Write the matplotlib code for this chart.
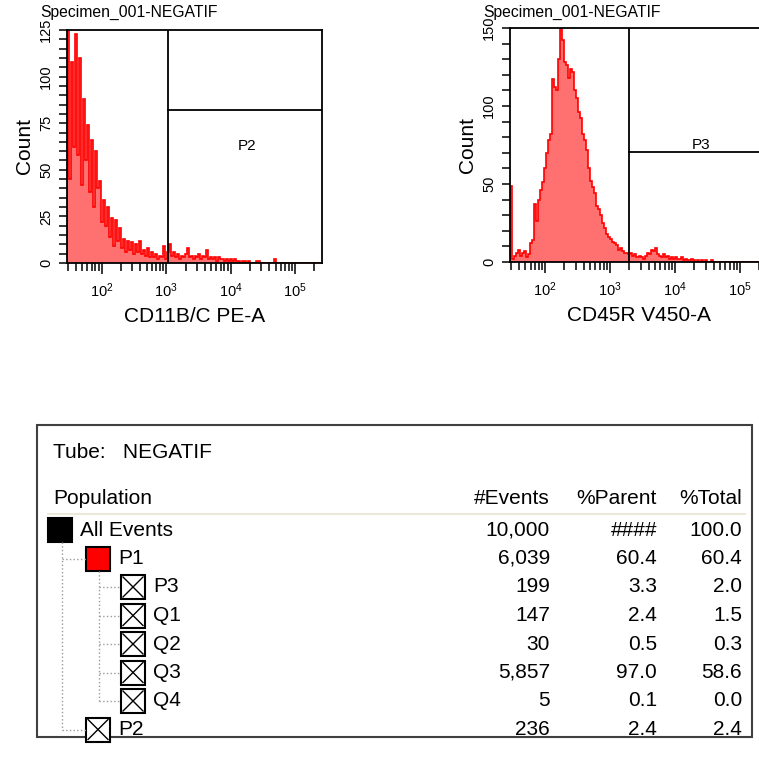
import numpy as np
import matplotlib.pyplot as plt
from matplotlib.patches import Rectangle
from matplotlib.ticker import LogLocator, MultipleLocator, NullFormatter

plt.rcParams['font.family'] = ['Liberation Sans', 'DejaVu Sans']

# histogram counts, 128 log-spaced channels from ~29 to 262144
cd11b_counts = [125, 45, 108, 62, 123, 58, 110, 42, 88, 55,
                74, 38, 66, 30, 60, 40, 44, 22, 34, 20,
                30, 14, 24, 9, 23, 12, 19, 8, 13, 6,
                12, 7, 11, 5, 10, 6, 12, 5, 7, 4,
                8, 3, 6, 3, 5, 2, 4, 3, 9, 2,
                6, 10, 4, 6, 3, 5, 2, 4, 3, 5,
                8, 3, 4, 2, 4, 3, 5, 2, 4, 3,
                7, 2, 3, 2, 3, 1, 3, 2, 2, 1,
                2, 1, 2, 1, 2, 1, 1, 0, 1, 1,
                0, 1, 0, 0, 0, 1, 1, 0, 0, 0,
                0, 0, 0, 0, 2, 0, 0, 0, 0, 0,
                0, 0, 0, 0, 0, 0, 0, 0, 0, 0,
                0, 0, 0, 0, 0, 0, 0, 0]
cd45r_counts = [49, 2, 4, 6, 8, 4, 6, 7, 3, 5,
                12, 14, 37, 26, 40, 46, 51, 60, 70, 78,
                82, 117, 112, 110, 130, 150, 142, 128, 126, 118,
                124, 122, 110, 105, 96, 92, 82, 78, 72, 60,
                52, 48, 44, 36, 34, 30, 25, 22, 18, 16,
                15, 13, 12, 11, 8, 9, 7, 6, 6, 5,
                6, 4, 5, 3, 4, 3, 2, 4, 6, 5,
                8, 7, 9, 5, 4, 3, 5, 3, 4, 2,
                3, 2, 3, 2, 2, 3, 1, 2, 1, 1,
                2, 1, 0, 1, 0, 1, 0, 1, 0, 0,
                1, 0, 0, 0, 0, 0, 0, 0, 0, 0,
                0, 0, 0, 0, 0, 0, 0, 0, 0, 0,
                0, 0, 0, 0, 0, 0, 0, 0]

XMIN, XMAX = 29, 262144
p2_gate = (1070, 82)
p3_gate = (1950, 70.5)

# statistics table
populations = ['All Events', 'P1', 'P3', 'Q1', 'Q2', 'Q3', 'Q4', 'P2']
levels = [0, 1, 2, 2, 2, 2, 2, 1]
icons = ['black', 'red', 'x', 'x', 'x', 'x', 'x', 'x']
events = [10000, 6039, 199, 147, 30, 5857, 5, 236]
pct_parent = [None, 60.4, 3.3, 2.4, 0.5, 97.0, 0.1, 2.4]
pct_total = [100.0, 60.4, 2.0, 1.5, 0.3, 58.6, 0.0, 2.4]

W, H = 759, 757
fig = plt.figure(figsize=(W / 100, H / 100), dpi=100)


def hist_panel(rect, counts, ymax, ystep, yminor, xlabel, title, title_x):
    ax = fig.add_axes(rect)
    edges = np.logspace(np.log10(XMIN), np.log10(XMAX), len(counts) + 1)
    ax.stairs(counts, edges, fill=True, color='#ff7070', lw=0)
    ax.stairs(counts, edges, color='#ff0000', lw=1.2)
    ax.set_xscale('log')
    ax.set_xlim(XMIN, XMAX)
    ax.set_ylim(0, ymax)
    ax.xaxis.set_major_locator(LogLocator(base=10))
    ax.xaxis.set_minor_locator(LogLocator(base=10, subs=np.arange(2, 10)))
    ax.xaxis.set_minor_formatter(NullFormatter())
    ax.yaxis.set_major_locator(MultipleLocator(ystep))
    ax.yaxis.set_minor_locator(MultipleLocator(yminor))
    ax.tick_params(which='both', direction='out', width=1.1, length=6, labelsize=10.5)
    ax.tick_params(axis='x', which='major', length=8, pad=5)
    ax.tick_params(axis='y', labelrotation=90, pad=4)
    for lab in ax.get_yticklabels():
        lab.set_va('center')
    for s in ax.spines.values():
        s.set_linewidth(1.3)
    ax.set_xlabel(xlabel, fontsize=15, labelpad=5)
    ax.set_ylabel('Count', fontsize=15, labelpad=4)
    fig.text(title_x / W, 1 - 12 / H, title, fontsize=11.3, ha='left', va='center')
    return ax


ax1 = hist_panel([67 / W, 1 - 263 / H, 255 / W, 233 / H], cd11b_counts, 125, 25, 5,
                 'CD11B/C PE-A', 'Specimen_001-NEGATIF', 40)
ax1.axvline(p2_gate[0], color='black', lw=1.3)
ax1.plot([p2_gate[0], XMAX], [p2_gate[1], p2_gate[1]], color='black', lw=1.3)
ax1.text(18000, 63, 'P2', fontsize=11, ha='center', va='center')

ax2 = hist_panel([510 / W, 1 - 262 / H, 257 / W, 234 / H], cd45r_counts, 150, 50, 10,
                 'CD45R V450-A', 'Specimen_001-NEGATIF', 483)
ax2.axvline(p3_gate[0], color='black', lw=1.3)
ax2.plot([p3_gate[0], XMAX], [p3_gate[1], p3_gate[1]], color='black', lw=1.3)
ax2.text(25000, p3_gate[1], 'P3', fontsize=11, ha='center', va='bottom')

# table in pixel coordinates
tb = fig.add_axes([0, 0, 1, 1])
tb.set_xlim(0, W)
tb.set_ylim(H, 0)
tb.axis('off')
tb.patch.set_visible(False)

tb.add_patch(Rectangle((37, 425), 715, 312, fill=False, ec='#404040', lw=1.5))
fs = 15
tb.text(53, 452, 'Tube:   NEGATIF', fontsize=fs, va='center')
tb.text(53, 498, 'Population', fontsize=fs, va='center')
col_x = [550, 657, 742]
for x, h in zip(col_x, ['#Events', '%Parent', '%Total']):
    tb.text(x, 498, h, fontsize=fs, va='center', ha='right')
tb.plot([48, 745], [514, 514], color='#ece9d8', lw=1.5)

row_y = [530 + 28.5 * k for k in range(len(populations))]
box_x = [48, 86, 121]
dot = dict(color='#9a9a9a', lw=1, ls=':')
# tree connectors
tb.plot([62, 62], [542, row_y[-1]], **dot)
tb.plot([99, 99], [row_y[1] + 12, row_y[6]], **dot)
for lv, y in zip(levels, row_y):
    if lv == 1:
        tb.plot([62, 86], [y, y], **dot)
    elif lv == 2:
        tb.plot([99, 121], [y, y], **dot)

for name, lv, icon, ev, pp, pt, y in zip(populations, levels, icons, events,
                                         pct_parent, pct_total, row_y):
    bx = box_x[lv]
    s = 24
    if icon == 'x':
        tb.add_patch(Rectangle((bx, y - s / 2), s, s, fc='white', ec='black', lw=1.5))
        tb.plot([bx + 2, bx + s - 2], [y - s / 2 + 2, y + s / 2 - 2], color='black', lw=1)
        tb.plot([bx + 2, bx + s - 2], [y + s / 2 - 2, y - s / 2 + 2], color='black', lw=1)
    else:
        tb.add_patch(Rectangle((bx, y - s / 2), s, s, fc=icon, ec='black', lw=1.5))
    tb.text(bx + s + 8, y, name, fontsize=fs, va='center')
    tb.text(col_x[0], y, f'{ev:,}', fontsize=fs, va='center', ha='right')
    tb.text(col_x[1], y, '####' if pp is None else f'{pp:.1f}', fontsize=fs,
            va='center', ha='right')
    tb.text(col_x[2], y, f'{pt:.1f}', fontsize=fs, va='center', ha='right')

fig.savefig('out.png', dpi=100)
